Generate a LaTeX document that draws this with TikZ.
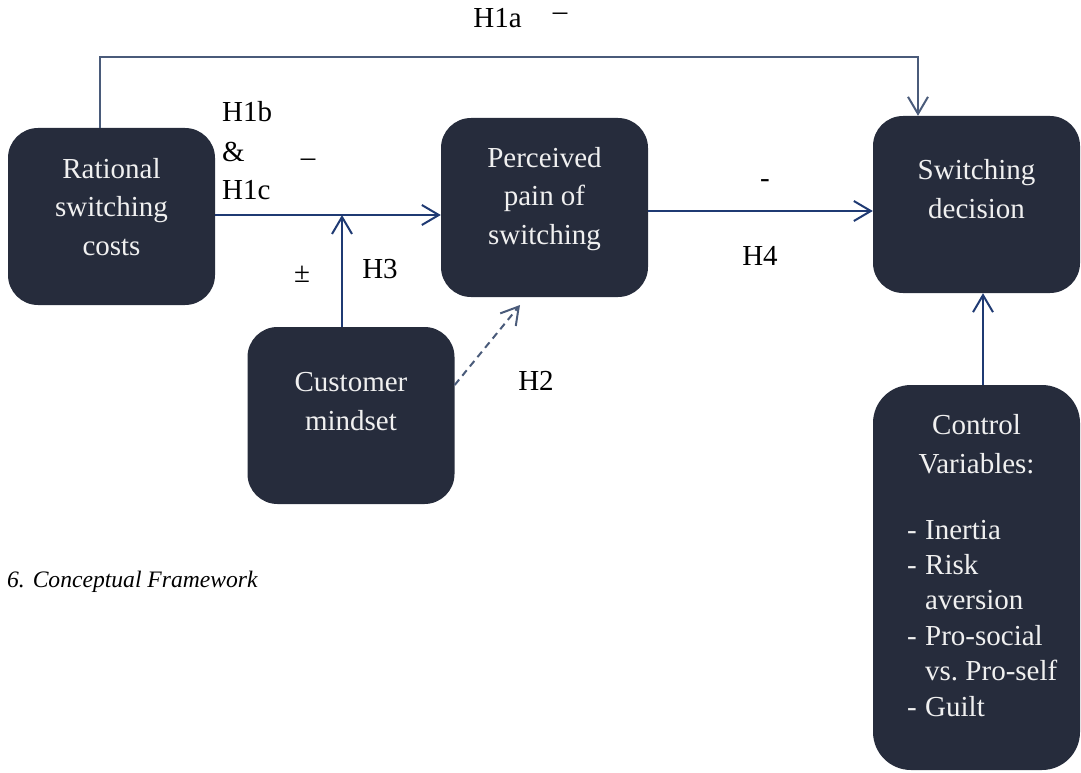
\documentclass[tikz,border=0pt]{standalone}
\usepackage{fontspec}
\setmainfont{Liberation Serif}
\usetikzlibrary{arrows.meta}
\definecolor{boxc}{HTML}{262C3C}
\definecolor{linec}{HTML}{1F3A73}
\definecolor{grayc}{HTML}{4A5B7A}
\begin{document}
\begin{tikzpicture}[x=1pt,y=-1pt,
  box/.style={fill=boxc,rounded corners=30pt,inner sep=0pt,minimum width=207pt},
  btxt/.style={text=white!94!black,align=center,inner sep=0pt,anchor=base,font=\fontsize{29}{38.5}\selectfont},
  ltxt/.style={text=white!94!black,align=left,inner sep=0pt,anchor=base west,font=\fontsize{29}{35.4}\selectfont},
  lbl/.style={inner sep=0pt,anchor=base,font=\fontsize{29}{38.5}\selectfont},
  tip/.style={-{Straight Barb[length=17pt,width=20pt,line width=2pt]}},
  conn/.style={draw=linec,line width=2pt,tip},
  ]
\useasboundingbox (0,0) rectangle (1081,773);
% boxes
\node[box,minimum height=177pt] (r) at (111.5,216.5) {};
\node[box,minimum height=179pt] (p) at (544.5,207.5) {};
\node[box,minimum height=177pt] (s) at (976.5,204.5) {};
\node[box,minimum height=177pt] (c) at (351,415.5) {};
\node[box,minimum height=385pt,rounded corners=38pt] (v) at (976.5,577.5) {};
% box texts (anchor base = baseline of last line)
\node[btxt] (rt) at (111.5,255) {Rational\\switching\\costs};
\node[btxt] (pt) at (544.5,244) {Perceived\\pain of\\switching};
\node[btxt] (st) at (976.5,218) {Switching\\decision};
\node[btxt] (ct) at (351,430) {Customer\\mindset};
\node[btxt] (vt) at (976.5,473) {Control\\Variables:};
\node[ltxt] (vd) at (907,716) {-\\-\\\mbox{}\\-\\\mbox{}\\-};
\node[ltxt] (vl) at (925,716) {Inertia\\Risk\\aversion\\Pro-social\\vs.\ Pro-self\\Guilt};
% connectors
\coordinate (tl) at (100,57);
\coordinate (tr) at (918,57);
\draw[conn,draw=grayc,line width=1.5pt] (r.north -| tl) -- (tl) -- (tr) -- (s.north -| tr);
\coordinate (j) at (342,215);
\draw[conn] (r.east |- j) -- (p.west |- j);
\draw[conn] (c.north -| j) -- (j);
\coordinate (h4) at (700,211);
\draw[conn] (p.east |- h4) -- (s.west |- h4);
\coordinate (cv) at (983,0);
\draw[conn] (v.north -| cv) -- (s.south -| cv);
\coordinate (d1) at (455,385);
\coordinate (d2) at (520,305);
\draw[conn,draw=grayc,dash pattern=on 7pt off 5pt] (c.east |- d1) -- (d2);
% labels
\node[lbl] (h1a) at (497.5,28) {H1a};
\node[lbl] (m1) at (560,21) {–};
\node[lbl,anchor=base west] (h1b) at (222,122) {H1b};
\node[lbl,anchor=base west] (amp) at (222,161) {\&};
\node[lbl,anchor=base west] (h1c) at (222,199) {H1c};
\node[lbl] (m2) at (308,166) {–};
\node[lbl] (pm) at (302,282) {±};
\node[lbl] (h3) at (380,278) {H3};
\node[lbl] (h4l) at (760,265) {H4};
\node[lbl] (m4) at (765,187) {-};
\node[lbl] (h2) at (536,390) {H2};
\node[inner sep=0pt,anchor=base west,font=\fontsize{23.6}{28}\selectfont\itshape] (cap) at (7,587) {6. Conceptual Framework};
\end{tikzpicture}
\end{document}
